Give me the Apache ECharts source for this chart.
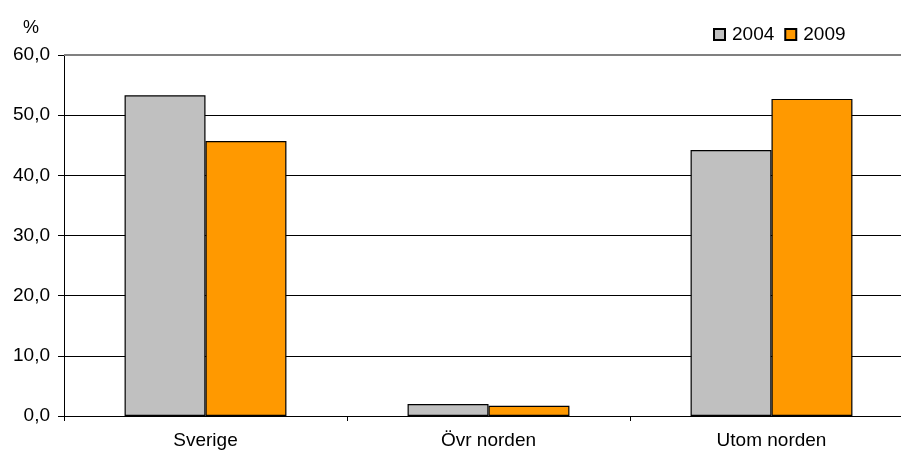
<!DOCTYPE html>
<html>
<head>
<meta charset="utf-8">
<script src="https://cdn.jsdelivr.net/npm/echarts@6/dist/echarts.min.js"></script>
<style>
html,body{margin:0;padding:0;background:#fff;}
#c{width:901px;height:457px;}
</style>
</head>
<body>
<div id="c"></div>
<script>
const categories = ['Sverige', 'Övr norden', 'Utom norden'];
const series2004 = [53.3, 2.0, 44.2];
const series2009 = [45.7, 1.7, 52.7];
const seriesNames = ['2004', '2009'];

const chart = echarts.init(document.getElementById('c'));
const font = 'Liberation Sans, Arial, sans-serif';
chart.setOption({
  animation: false,
  backgroundColor: '#fff',
  textStyle: { fontFamily: font },
  grid: { left: 64, top: 55, right: -12, bottom: 41, containLabel: false, outerBoundsMode: 'none' },
  title: {
    text: '%', left: 18, top: 14,
    textStyle: { fontFamily: font, fontSize: 18, fontWeight: 'normal', color: '#000' }
  },
  legend: {
    data: seriesNames, left: 708, top: 20, itemWidth: 11, itemHeight: 11, itemGap: 10,
    icon: 'rect',
    textStyle: { fontFamily: font, fontSize: 19, color: '#000', padding: [0, 0, 0, 2] }
  },
  xAxis: {
    type: 'category', data: categories,
    axisLine: { lineStyle: { color: '#000', width: 1 } },
    axisTick: { show: true, length: 5, lineStyle: { color: '#000' } },
    axisLabel: { color: '#000', fontSize: 19, fontFamily: font, margin: 15 }
  },
  yAxis: {
    type: 'value', min: 0, max: 60, interval: 10,
    axisLine: { show: true, lineStyle: { color: '#000', width: 1 } },
    axisTick: { show: true, length: 6, lineStyle: { color: '#000' } },
    axisLabel: { color: '#000', fontSize: 19, fontFamily: font, margin: 14,
      formatter: v => v.toFixed(1).replace('.', ',') },
    splitLine: { show: true, lineStyle: { color: ['#000','#000','#000','#000','#000','#000','#808080'], width: 1 } }
  },
  series: [
    {
      name: seriesNames[0], type: 'bar', data: series2004, barGap: '0%', barCategoryGap: '42.8%',
      itemStyle: { color: '#C0C0C0', borderColor: '#000', borderWidth: 1.2 },
      markLine: {
        silent: true, symbol: 'none', label: { show: false },
        lineStyle: { color: '#808080', width: 2, type: 'solid' },
        data: [{ yAxis: 60 }]
      }
    },
    {
      name: seriesNames[1], type: 'bar', data: series2009,
      itemStyle: { color: '#FF9900', borderColor: '#000', borderWidth: 1.2 }
    }
  ]
});
</script>
</body>
</html>
